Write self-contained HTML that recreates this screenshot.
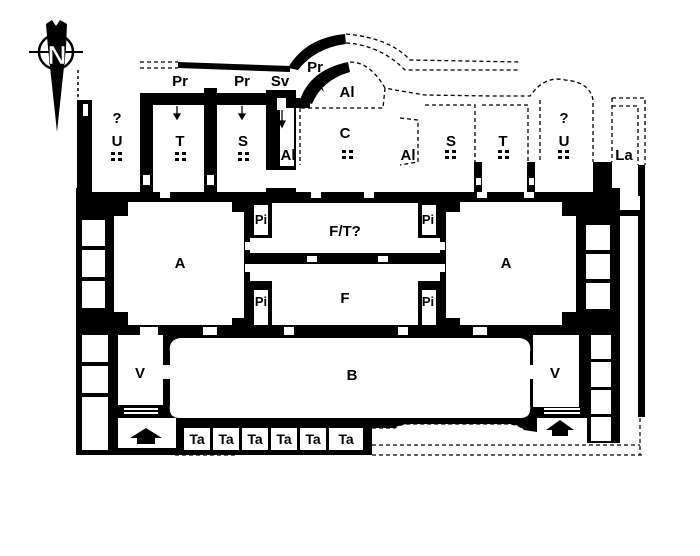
<!DOCTYPE html>
<html><head><meta charset="utf-8"><style>
html,body{margin:0;padding:0;background:#fff;}
svg{display:block}
text{font-family:"Liberation Sans",sans-serif;font-weight:bold;fill:#000;text-anchor:middle}
</style></head><body>
<svg width="700" height="556" viewBox="0 0 700 556" xmlns="http://www.w3.org/2000/svg">
<!-- compass -->
<path d="M46,24 L52,20 L56,26 L60,20 L67,24 L66,48 L57,132 L48,48 Z" fill="#000"/>
<circle cx="56" cy="52" r="17" fill="none" stroke="#000" stroke-width="2.5"/>
<line x1="29" y1="52" x2="83" y2="52" stroke="#000" stroke-width="2"/>
<text x="57" y="64" font-size="26" style="fill:#fff;stroke:#000;stroke-width:0.6">N</text>
<line x1="78" y1="70" x2="78" y2="98" stroke="#000" stroke-width="1.5" stroke-dasharray="3,3"/>

<!-- main black block -->
<rect x="76" y="188" width="544" height="267" fill="#000"/>
<rect x="77" y="100" width="15" height="90" fill="#000"/>
<rect x="83" y="104" width="5" height="12" fill="#fff"/>
<rect x="140" y="93" width="150" height="12" fill="#000"/>
<rect x="140" y="93" width="13" height="97" fill="#000"/>
<rect x="204" y="88" width="13" height="102" fill="#000"/>
<rect x="266" y="90" width="30" height="80" fill="#000"/>
<rect x="280" y="108" width="14" height="58" fill="#fff"/>
<rect x="277" y="98" width="9" height="12" fill="#fff"/>
<rect x="143" y="175" width="7" height="10" fill="#fff"/>
<rect x="207" y="175" width="7" height="10" fill="#fff"/>
<rect x="474" y="162" width="8" height="26" fill="#000"/>
<rect x="527" y="162" width="8" height="26" fill="#000"/>
<rect x="476" y="178" width="5" height="7" fill="#fff"/>
<rect x="529" y="178" width="5" height="7" fill="#fff"/>
<rect x="593" y="162" width="19" height="30" fill="#000"/>
<rect x="638" y="165" width="7" height="252" fill="#000"/>
<rect x="620" y="196" width="20" height="18" fill="#fff"/>
<rect x="620" y="210" width="20" height="6" fill="#000"/>
<rect x="620" y="216" width="18" height="240" fill="#fff"/>
<path d="M178,62 L290,66 L290,72 L178,68 Z" fill="#000"/>
<path d="M288,68 Q305,38 345,34 L346,44 Q315,48 298,70 Z" fill="#000"/>
<path d="M300,100 Q310,70 348,62 L350,72 Q322,80 312,104 Z" fill="#000"/>
<rect x="294" y="98" width="16" height="10" fill="#000"/>
<path d="M324,92 L315,82 L320,81 Z" fill="#000"/>
<g fill="none" stroke="#000" stroke-width="1.3" stroke-dasharray="4,3">
<path d="M140,62 L178,62 M140,68 L178,68"/>
<path d="M346,34 Q390,38 410,60 L520,62 M346,43 Q380,45 405,70 L520,70"/>
<path d="M350,62 Q370,62 385,88 L395,90 L425,95 L490,96 L530,96 Q545,75 565,80 Q590,82 593,100 L593,162"/>
<path d="M385,88 L383,108 L300,108"/>
<path d="M400,118 L418,120 L418,162 L400,165"/>
<path d="M425,105 L475,105 L475,162 M482,105 L528,105 L528,162 M540,100 L540,162"/>
<path d="M612,98 L645,98 L645,165 M612,106 L638,106 L638,165 M612,98 L612,162"/>
<path d="M300,108 L300,165"/>
</g>
<g fill="#fff">
<rect x="92" y="188" width="48" height="4"/>
<rect x="153" y="188" width="51" height="4"/>
<rect x="217" y="188" width="49" height="4"/>
<rect x="296" y="188" width="178" height="4"/>
<rect x="482" y="188" width="45" height="4"/>
<rect x="535" y="188" width="58" height="4"/>
<path d="M128,202 L232,202 L232,212 L244,212 L244,318 L232,318 L232,325 L128,325 L128,312 L114,312 L114,216 L128,216 Z"/>
<path d="M460,202 L562,202 L562,216 L576,216 L576,312 L562,312 L562,325 L460,325 L460,318 L446,318 L446,212 L460,212 Z"/>
<!-- F/T? -->
<rect x="272" y="203" width="146" height="50"/>
<rect x="254" y="205" width="14" height="30"/>
<rect x="422" y="205" width="14" height="30"/>
<rect x="250" y="238" width="190" height="15"/>
<!-- F -->
<rect x="250" y="264" width="190" height="17"/>
<rect x="272" y="264" width="146" height="61"/>
<rect x="254" y="290" width="14" height="35"/>
<rect x="422" y="290" width="14" height="35"/>
<!-- B -->
<path d="M180,338 L520,338 Q532,340 530,352 L530,405 Q532,418 520,418 L180,418 Q168,418 170,405 L170,352 Q168,340 180,338 Z"/>
<rect x="118" y="335" width="45" height="70"/>
<rect x="533" y="335" width="46" height="72"/>
<rect x="82" y="220" width="23" height="26"/>
<rect x="82" y="250" width="23" height="27"/>
<rect x="82" y="281" width="23" height="27"/>
<rect x="82" y="335" width="26" height="27"/>
<rect x="82" y="366" width="26" height="27"/>
<rect x="82" y="397" width="26" height="53"/>
<rect x="586" y="225" width="24" height="25"/>
<rect x="586" y="254" width="24" height="25"/>
<rect x="586" y="283" width="24" height="26"/>
<rect x="591" y="335" width="20" height="24"/>
<rect x="591" y="362" width="20" height="25"/>
<rect x="591" y="390" width="20" height="24"/>
<rect x="591" y="417" width="20" height="24"/>
<rect x="118" y="418" width="58" height="30"/>
<rect x="537" y="418" width="50" height="25"/>
<rect x="124" y="408" width="34" height="2"/><rect x="124" y="412" width="34" height="2"/>
<rect x="544" y="408" width="36" height="2"/><rect x="544" y="412" width="36" height="2"/>
<rect x="184" y="428" width="26" height="22"/>
<rect x="213" y="428" width="26" height="22"/>
<rect x="242" y="428" width="26" height="22"/>
<rect x="271" y="428" width="26" height="22"/>
<rect x="300" y="428" width="26" height="22"/>
<rect x="329" y="428" width="34" height="22"/>
<path d="M372,428 L395,428 Q400,424 410,424 L510,424 Q520,425 524,430 L537,432 L537,443 L620,443 L620,456 L372,456 Z"/>
<rect x="140" y="327" width="18" height="8"/>
<rect x="203" y="327" width="14" height="8"/>
<rect x="284" y="327" width="10" height="8"/>
<rect x="398" y="327" width="10" height="8"/>
<rect x="473" y="327" width="14" height="8"/>
<rect x="162" y="365" width="8" height="14"/>
<rect x="530" y="365" width="8" height="14"/>
<rect x="311" y="192" width="10" height="6"/>
<rect x="364" y="192" width="10" height="6"/>
<rect x="477" y="192" width="10" height="6"/>
<rect x="524" y="192" width="10" height="6"/>
<rect x="160" y="192" width="10" height="6"/>
<rect x="307" y="256" width="10" height="6"/>
<rect x="378" y="256" width="10" height="6"/>
<rect x="245" y="242" width="5" height="8"/>
<rect x="440" y="242" width="5" height="8"/>
<rect x="245" y="264" width="5" height="8"/>
<rect x="440" y="264" width="5" height="8"/>
</g>
<g fill="none" stroke="#000" stroke-width="1.2" stroke-dasharray="4,3">
<path d="M372,428 L395,428 Q400,424 410,424 L510,424 Q520,425 524,430 M372,445 L640,445 M372,455 L645,455 M640,418 L640,455"/>
<path d="M120,452 L175,452 M175,455 L235,455"/>
</g>
<path d="M130,438 L146,428 L162,438 L155,438 L155,444 L137,444 L137,438 Z" fill="#000"/>
<path d="M546,430 L560,420 L574,430 L568,430 L568,436 L552,436 L552,430 Z" fill="#000"/>
<g stroke="#000" stroke-width="1.3" fill="#000">
<line x1="177" y1="106" x2="177" y2="116"/><path d="M174,114 L180,114 L177,119 Z"/>
<line x1="242" y1="106" x2="242" y2="116"/><path d="M239,114 L245,114 L242,119 Z"/>
<line x1="282" y1="110" x2="282" y2="124"/><path d="M279,121 L285,121 L282,127 Z"/>
</g>
<g fill="#000">
<g transform="translate(111,152)"><rect width="4" height="3"/><rect x="7" width="4" height="3"/><rect y="6" width="4" height="3"/><rect x="7" y="6" width="4" height="3"/></g>
<g transform="translate(175,152)"><rect width="4" height="3"/><rect x="7" width="4" height="3"/><rect y="6" width="4" height="3"/><rect x="7" y="6" width="4" height="3"/></g>
<g transform="translate(238,152)"><rect width="4" height="3"/><rect x="7" width="4" height="3"/><rect y="6" width="4" height="3"/><rect x="7" y="6" width="4" height="3"/></g>
<g transform="translate(342,150)"><rect width="4" height="3"/><rect x="7" width="4" height="3"/><rect y="6" width="4" height="3"/><rect x="7" y="6" width="4" height="3"/></g>
<g transform="translate(445,150)"><rect width="4" height="3"/><rect x="7" width="4" height="3"/><rect y="6" width="4" height="3"/><rect x="7" y="6" width="4" height="3"/></g>
<g transform="translate(498,150)"><rect width="4" height="3"/><rect x="7" width="4" height="3"/><rect y="6" width="4" height="3"/><rect x="7" y="6" width="4" height="3"/></g>
<g transform="translate(558,150)"><rect width="4" height="3"/><rect x="7" width="4" height="3"/><rect y="6" width="4" height="3"/><rect x="7" y="6" width="4" height="3"/></g>
</g>
<g font-size="15">
<text x="117" y="123">?</text><text x="117" y="146">U</text>
<text x="180" y="146">T</text><text x="243" y="146">S</text>
<text x="180" y="86">Pr</text><text x="242" y="86">Pr</text><text x="280" y="86">Sv</text>
<text x="315" y="72">Pr</text><text x="347" y="97">Al</text>
<text x="288" y="160">Al</text><text x="345" y="138">C</text>
<text x="408" y="160">Al</text><text x="451" y="146">S</text><text x="503" y="146">T</text>
<text x="564" y="123">?</text><text x="564" y="146">U</text>
<text x="624" y="160">La</text>
<text x="180" y="268">A</text><text x="506" y="268">A</text>
<text x="345" y="236">F/T?</text><text x="345" y="303">F</text>
<text x="261" y="224" font-size="13">Pi</text><text x="428" y="224" font-size="13">Pi</text>
<text x="261" y="306" font-size="13">Pi</text><text x="428" y="306" font-size="13">Pi</text>
<text x="140" y="378">V</text><text x="555" y="378">V</text>
<text x="352" y="380">B</text>
<text x="197" y="444" font-size="14">Ta</text><text x="226" y="444" font-size="14">Ta</text>
<text x="255" y="444" font-size="14">Ta</text><text x="284" y="444" font-size="14">Ta</text>
<text x="313" y="444" font-size="14">Ta</text><text x="346" y="444" font-size="14">Ta</text>
</g>
</svg>
</body></html>
